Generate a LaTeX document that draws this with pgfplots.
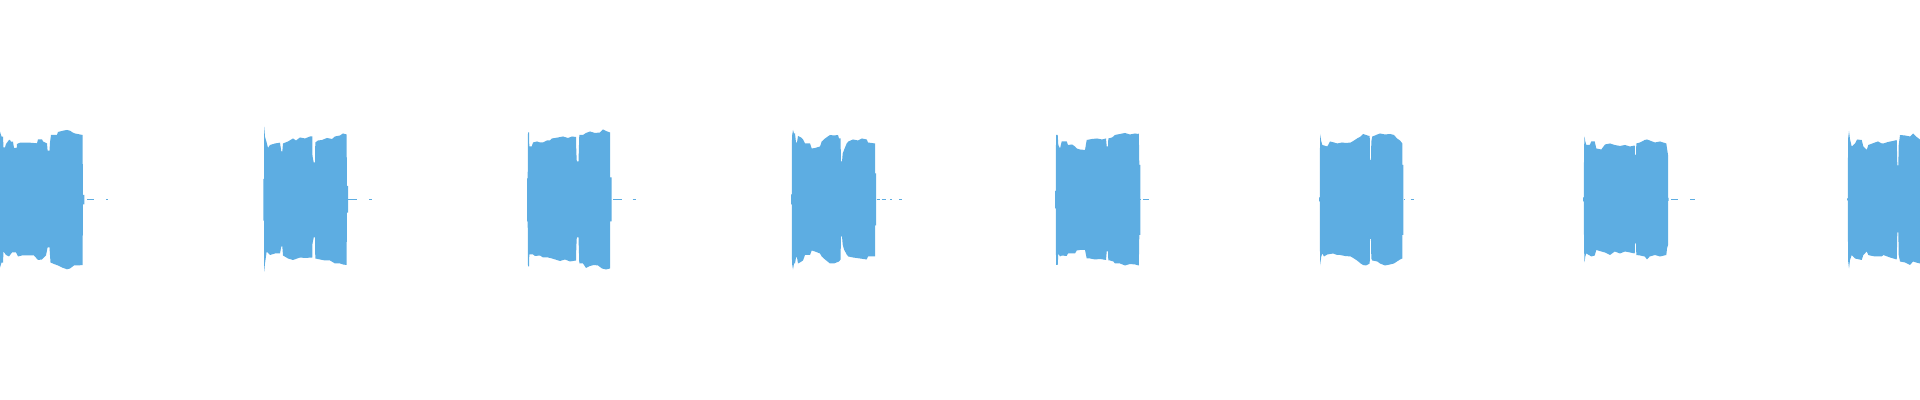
\documentclass[border=0pt]{standalone}
\usepackage{pgfplots}
\pgfplotsset{compat=1.18}
\definecolor{wave}{HTML}{5DADE2}
\begin{document}
\begin{tikzpicture}
\begin{axis}[
  width=19.2cm, height=4cm, scale only axis,
  xmin=0, xmax=1920, ymin=-200.5, ymax=199.5,
  axis lines=none, ticks=none,
  clip=true,
]
\path (rel axis cs:0,0) rectangle (rel axis cs:1,1);
% ---- burst 1
\addplot[fill=wave, draw=none] coordinates {
(0,67.8) (1.5,63) (3,62.8) (3.5,52) (5,52) (6,55.5) (9,59.5) (10,59.5) (11,57.8) (13,57.8) (14,51.5) (16.7,51.5) (17,55.5) (20,56.8) (30,56.8) (37,56.2) (38,60) (42,60) (43,58) (47,56) (47.6,48.8) (49.5,48.8) (50,57) (51,64.5) (57,64.5) (58,67.5) (64,69) (67,69.5) (70,68.8) (73,66.8) (75,66) (80,65) (82.7,64.5) (82.8,4.5) (84.3,4.5)
(84.3,-4.8) (82.8,-4.8) (82.7,-65.5) (78,-66) (74,-66) (70,-69) (67,-69.8) (62,-68) (58,-66) (54,-64.5) (50.5,-63) (49.5,-48) (47.6,-48) (46,-56) (42,-60) (38,-60.5) (34,-56) (28,-56) (22,-56) (18,-57) (16,-53) (12,-53) (9,-57) (6,-55.5) (3.5,-52) (3,-63.2) (1.5,-63) (0,-68.2)
} -- cycle;
% ---- burst 2
\addplot[fill=wave, draw=none] coordinates {
(263.3,20.5) (264,20.5) (264.2,72.8) (265,62.8) (266.7,56.8) (268,51.5) (270,54.5) (275,56) (280,56.8) (281.3,48) (282.3,48) (283,56) (288,58) (293,61) (296,59) (300,62) (305,61) (310,63) (312.3,63) (312.5,43.5) (313.7,37) (315,37) (315.3,57) (318,59) (322,59.5) (327,61.5) (332,60.5) (335,63) (340,64) (343,66) (346.7,65) (346.8,13.5) (348,13.5)
(348,-13.2) (346.8,-13.2) (346.7,-65.5) (343,-65) (340,-64) (335,-64) (330,-61) (325,-61) (320,-60) (315.3,-59) (315,-38) (313.7,-38) (312.5,-44) (312.3,-58) (305,-58.5) (300,-58) (293,-60.5) (288,-59) (283,-56) (282.3,-47) (281.3,-47) (280,-54) (275,-54) (270,-55.5) (266.7,-52) (265,-63.8) (264.2,-72.2) (264,-21.2) (263.3,-21.2)
} -- cycle;
% ---- burst 3
\addplot[fill=wave, draw=none] coordinates {
(527,21.2) (527.7,21.2) (528,67) (529,67) (529.3,53) (531.7,53) (533,57) (537,58) (540,57) (543,57) (547,59) (550,59) (552,61) (558,62) (563,63) (568,61.5) (572,63) (576,62.5) (576.3,48) (576.8,38) (578.5,38) (579.3,64.5) (583,64.5) (586,66.5) (590,68) (595,66.5) (600,67) (603,70) (606,68.5) (610,67) (610.1,22) (611.7,22)
(611.7,-22) (610.1,-22) (610,-69) (606,-70) (602,-69) (598,-66) (594,-65.5) (590,-66.5) (586,-68.5) (583,-64) (579.3,-64) (578.5,-38) (576.8,-38) (576.3,-48) (576,-61) (570,-62) (565,-60) (560,-61.5) (552,-59) (548,-58) (543,-58) (540,-56) (535,-56.5) (533,-55) (531.7,-55) (529.3,-55) (529,-67) (528,-67) (527.7,-22) (527,-22)
} -- cycle;
% ---- burst 4
\addplot[fill=wave, draw=none] coordinates {
(791,5) (791.8,5) (792,63.5) (793,69.5) (794,66) (795,66) (796,57) (797,57) (798,63.5) (801,62) (803,60) (805,56) (810,56) (811.7,51) (815,51.5) (820,53) (821.7,58) (825,61) (830,64.5) (834,64) (838,64.5) (839,61) (840.5,61) (841,38) (842,38) (842.7,46) (845,52) (846.7,56) (848.3,58) (853,60) (858,59) (862,61) (866.7,60) (868,57) (875,56) (875.1,26) (876,26)
(876,-26) (875.1,-26) (875,-57) (868,-57) (866.7,-60) (860,-59) (853,-58) (848.3,-57) (846.7,-55) (844,-50) (842.7,-45) (842,-37) (841,-37) (840.5,-60) (839,-62) (834,-64) (830,-64) (825,-60) (821.7,-57) (820,-54) (815,-52) (811.7,-51) (810,-55.5) (805,-55.5) (803,-61) (800,-63) (798,-64) (797,-58) (796,-58) (795,-64) (794,-64) (793,-70) (792,-64) (791.8,-5) (791,-5)
} -- cycle;
% ---- burst 5
\addplot[fill=wave, draw=none] coordinates {
(1055,8.5) (1055.9,8.5) (1056,64.5) (1057.7,64.5) (1058.3,54.5) (1060,51) (1061.7,58) (1066.7,58) (1068,54.5) (1072,55) (1075,53) (1076.7,51) (1080,50) (1085,49.5) (1086.7,59.5) (1092,60.5) (1097,61) (1102,60) (1106,61) (1106.7,53) (1108,53) (1108.3,61) (1112,62) (1113.3,63) (1115,64.5) (1120,65.5) (1125,66.5) (1130,65) (1135,66) (1138.3,65.5) (1138.8,66) (1139.3,34.5) (1140.3,34.5)
(1140.3,-35.5) (1139.3,-35.5) (1138.8,-66) (1135,-65) (1130,-64.5) (1125,-66) (1120,-64) (1115,-64) (1113.3,-62) (1110,-61) (1108.3,-61) (1108,-52) (1106.7,-52) (1106,-60.5) (1100,-59.5) (1095,-60) (1090,-59) (1086.7,-59) (1085,-50.5) (1080,-50.5) (1076.7,-51) (1075,-54) (1068,-54) (1066.7,-56.5) (1061.7,-56) (1060,-57) (1058.3,-54) (1057.7,-65.5) (1056,-65.5) (1055.9,-9) (1055,-9)
} -- cycle;
% ---- burst 6
\addplot[fill=wave, draw=none] coordinates {
(1319,2) (1319.9,2) (1320,65.5) (1321.3,58) (1322.3,54.5) (1327.3,53) (1330,58) (1334,57) (1337.3,56) (1342,57) (1346,56.5) (1350.7,57) (1354,59) (1357,61) (1360.7,63) (1363,65.5) (1366,64.5) (1369,63.5) (1369.7,63.5) (1370,39.5) (1371,39.5) (1371.3,58) (1372.3,63) (1375,64) (1377.3,65) (1380,66) (1385,65) (1390,65.5) (1394,64.5) (1397,61) (1400,59) (1402.3,56) (1402.4,34.5) (1403.3,34.5)
(1403.3,-35.5) (1402.4,-35.5) (1402.3,-59) (1400,-60) (1397,-62) (1394,-64) (1390,-65) (1385,-66) (1380,-64) (1377.3,-62) (1372.3,-61) (1371.3,-59) (1371,-39.5) (1370,-39.5) (1369.7,-64) (1366,-66) (1363,-65.5) (1360.7,-64) (1357,-61) (1354,-59) (1350.7,-57) (1345,-56.5) (1340,-55.5) (1337.3,-55.5) (1333,-54) (1327.3,-55) (1324,-57) (1322.3,-54) (1321.3,-57) (1320,-66) (1319.9,-2) (1319,-2)
} -- cycle;
% ---- burst 7
\addplot[fill=wave, draw=none] coordinates {
(1583,2) (1583.9,2) (1584,49.5) (1584.5,63) (1585.3,58) (1586.3,54.5) (1589.7,54.5) (1591.3,58) (1594.7,58) (1596.3,51) (1601.3,50) (1605,55) (1610,56) (1614.7,54.5) (1620,53.5) (1625,54.5) (1630,53) (1634.7,54) (1635,44.5) (1636,44.5) (1636.3,56) (1640,57) (1644.7,59.5) (1647,60) (1649.7,59) (1655,57) (1660,58) (1666.3,56) (1667,51) (1668,44.5) (1668.1,1.5) (1668.7,1.5)
(1668.7,-1.5) (1668.1,-1.5) (1668,-45.5) (1667,-49) (1666.3,-55.5) (1660,-57) (1655,-55.5) (1649.7,-57) (1647,-60) (1644.7,-57) (1640,-56) (1636.3,-55.5) (1636,-44) (1635,-44) (1634.7,-54) (1630,-53) (1625,-52) (1620,-54) (1614.7,-52) (1610,-55.5) (1605,-53) (1601.3,-52) (1596.3,-50.5) (1594.7,-56) (1591.3,-57) (1589.7,-56) (1586.3,-54) (1585.3,-57) (1584.5,-63) (1584,-47) (1583.9,-2) (1583,-2)
} -- cycle;
% ---- burst 8
\addplot[fill=wave, draw=none] coordinates {
(1847,1) (1847.9,1) (1848,60) (1849,68.5) (1850,60) (1851.7,53) (1855,56) (1857,60) (1861.7,59.5) (1863.3,53) (1866.7,49.5) (1868.3,54.5) (1875,57) (1878,58) (1881.7,56) (1883.3,56) (1888,57.5) (1893,58.5) (1896.7,59.5) (1897.3,34) (1898.3,34) (1898.7,54.5) (1900,64.5) (1905,64) (1910,63) (1913,66) (1916,63) (1920,60)
(1920,-64) (1916,-63) (1913,-62) (1910,-65.5) (1905,-63) (1900,-62) (1898.7,-55.5) (1898.3,-33) (1897.3,-33) (1896.7,-60) (1890,-58) (1883.3,-55.5) (1881.7,-57) (1875,-57) (1870,-56) (1868.3,-55.5) (1866.7,-52) (1863.3,-55.5) (1861.7,-60.5) (1855,-59) (1851.7,-55.5) (1850,-60.5) (1849,-69) (1848,-60.5) (1847.9,-1) (1847,-1)
} -- cycle;
% ---- near-silent tails
\addplot[wave, line width=0.45pt] coordinates {(87,0) (94,0)};
\addplot[wave, line width=0.45pt] coordinates {(106,0) (107.7,0)};
\addplot[wave, line width=0.45pt] coordinates {(348.3,0) (356.7,0)};
\addplot[wave, line width=0.45pt] coordinates {(369,0) (371.7,0)};
\addplot[wave, line width=0.45pt] coordinates {(613.3,0) (621.7,0)};
\addplot[wave, line width=0.45pt] coordinates {(632.7,0) (635.7,0)};
\addplot[wave, line width=0.45pt] coordinates {(876.7,0) (880,0)};
\addplot[wave, line width=0.45pt] coordinates {(881.7,0) (886,0)};
\addplot[wave, line width=0.45pt] coordinates {(890,0) (891.7,0)};
\addplot[wave, line width=0.45pt] coordinates {(899,0) (901.7,0)};
\addplot[wave, line width=0.45pt] coordinates {(1140.3,0) (1141,0)};
\addplot[wave, line width=0.45pt] coordinates {(1143,0) (1149,0)};
\addplot[wave, line width=0.45pt] coordinates {(1404,0) (1405,0)};
\addplot[wave, line width=0.45pt] coordinates {(1410.7,0) (1414,0)};
\addplot[wave, line width=0.45pt] coordinates {(1671,0) (1678,0)};
\addplot[wave, line width=0.45pt] coordinates {(1690,0) (1695,0)};
\end{axis}
\end{tikzpicture}
\end{document}
